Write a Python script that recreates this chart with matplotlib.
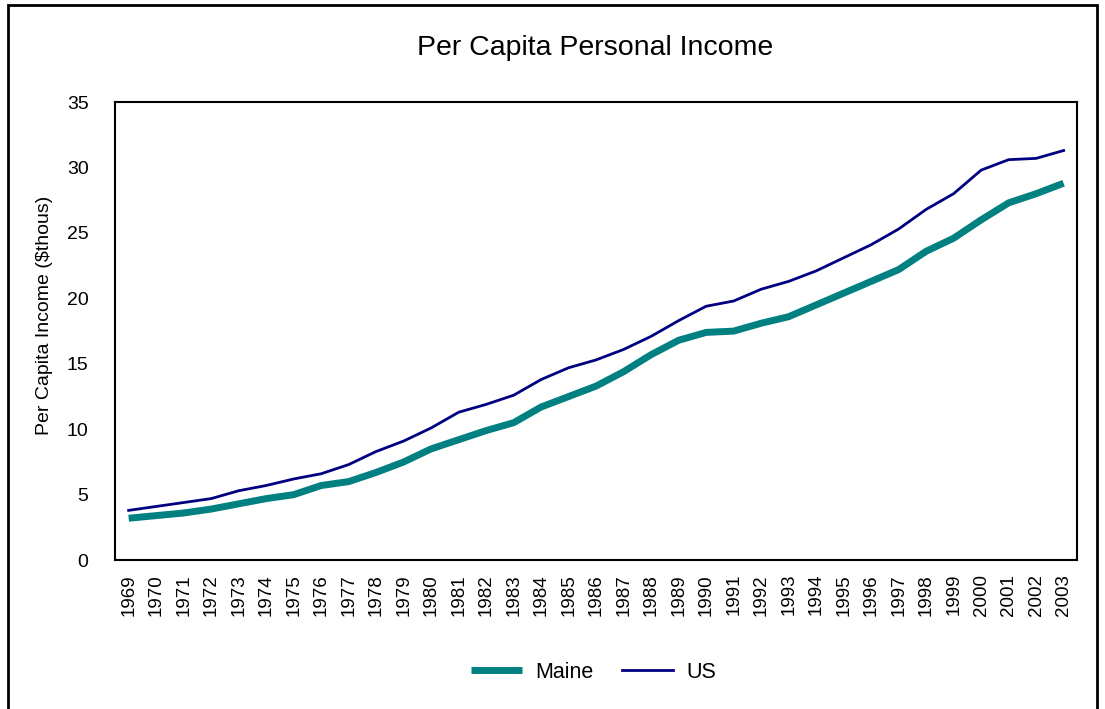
import matplotlib
matplotlib.use("Agg")
import matplotlib.pyplot as plt
from matplotlib.patches import Rectangle

plt.rcParams['font.family'] = ['Liberation Sans', 'DejaVu Sans']

years = [str(y) for y in range(1969, 2004)]
maine = [3.2, 3.4, 3.6, 3.9, 4.3, 4.7, 5.0, 5.7, 6.0, 6.7,
         7.5, 8.5, 9.2, 9.9, 10.5, 11.7, 12.5, 13.3, 14.4, 15.7,
         16.8, 17.4, 17.5, 18.1, 18.6, 19.5, 20.4, 21.3, 22.2, 23.6,
         24.6, 26.0, 27.3, 28.0, 28.8]
us = [3.8, 4.1, 4.4, 4.7, 5.3, 5.7, 6.2, 6.6, 7.3, 8.3,
      9.1, 10.1, 11.3, 11.9, 12.6, 13.8, 14.7, 15.3, 16.1, 17.1,
      18.3, 19.4, 19.8, 20.7, 21.3, 22.1, 23.1, 24.1, 25.3, 26.8,
      28.0, 29.8, 30.6, 30.7, 31.3]

fig = plt.figure(figsize=(11.05, 7.09), dpi=100)
ax = fig.add_axes([0.104, 0.210, 0.871, 0.646])

x = range(len(years))
ax.plot(x, maine, color='#008080', linewidth=5, label='Maine', solid_capstyle='butt')
ax.plot(x, us, color='#000080', linewidth=2, label='US')

ax.set_xlim(-0.5, len(years) - 0.5)
ax.set_ylim(0, 35)
ax.set_yticks(range(0, 36, 5))
ax.set_xticks(list(x))
ax.set_xticklabels(years, rotation=90, fontsize=13.5)
ax.tick_params(axis='y', labelsize=14, length=0, pad=19)
ax.tick_params(axis='x', length=0, pad=10)
for s in ax.spines.values():
    s.set_linewidth(1.5)

ax.set_ylabel('Per Capita Income (\\$thous)', fontsize=14)
ax.yaxis.set_label_coords(-0.064, 0.535)
fig.text(0.539, 0.933, 'Per Capita Personal Income', fontsize=20.5,
         ha='center', va='center')

fig.legend(loc='center', bbox_to_anchor=(0.537, 0.052), ncol=2, frameon=False,
           fontsize=15.5, handlelength=2.4, handletextpad=0.6, columnspacing=1.3)

# outer chart border
fig.add_artist(Rectangle((0.007, -0.01), 0.986, 1.003, transform=fig.transFigure,
                         fill=False, edgecolor='black', linewidth=2))

fig.savefig('out.png', dpi=100)
